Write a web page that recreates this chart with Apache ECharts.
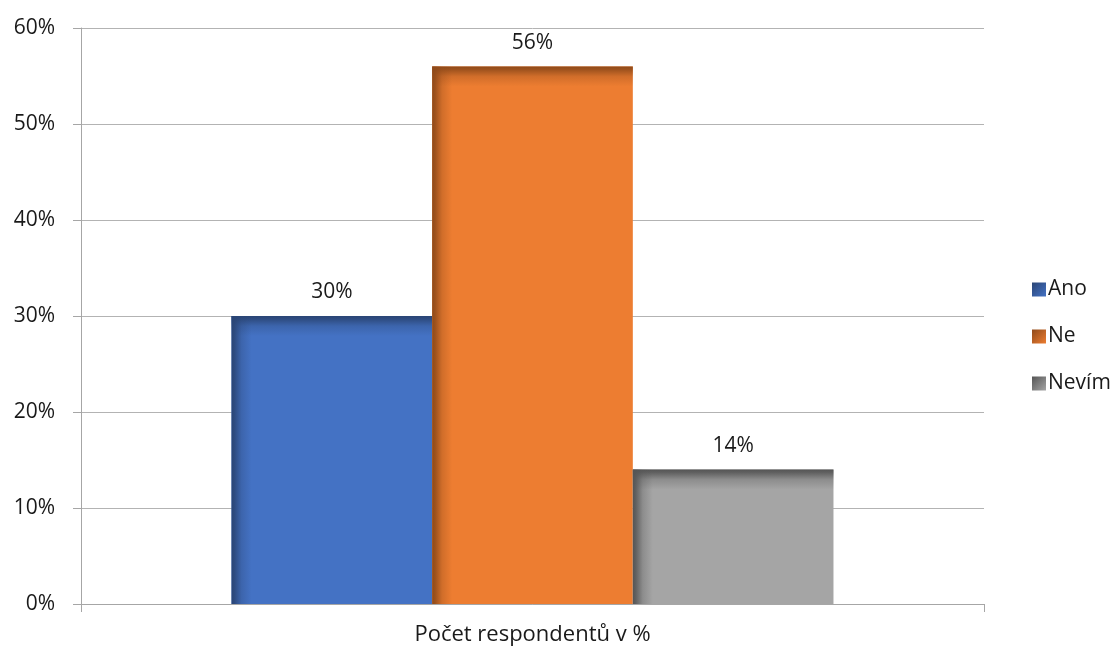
<!DOCTYPE html>
<html>
<head>
<meta charset="utf-8">
<script src="https://cdn.jsdelivr.net/npm/echarts@6/dist/echarts.min.js"></script>
<style>
  html, body { margin: 0; padding: 0; background: #ffffff; }
  #chart { width: 1119px; height: 648px; }
</style>
</head>
<body>
<div id="chart"></div>
<script>
// Survey answers, share of respondents in percent
const categories = ['Počet respondentů v %'];
const seriesNames = ['Ano', 'Ne', 'Nevím'];
const seriesValues = [30, 56, 14];
const baseColors = ['#4472c4', '#ed7d31', '#a5a5a5'];
const edgeColors = ['#2a4575', '#8f4a1a', '#555555'];

const FONT = 'Open Sans';
const FONT_SIZE = 21;
const TEXT_COLOR = '#1a1a1a';
const BAR_RATIO = 0.2222;   // bar width as a share of the category band
const EDGE = 20;            // width of the shaded bevel along left/top edges

function bevel(edge) {
  return [
    { offset: 0, color: edge },
    { offset: 0.15, color: echarts.color.modifyAlpha(edge, 0.85) },
    { offset: 0.5, color: echarts.color.modifyAlpha(edge, 0.3) },
    { offset: 1, color: echarts.color.modifyAlpha(edge, 0) }
  ];
}

function barRenderer(idx) {
  return function (params, api) {
    const value = api.value(1);
    const base = api.coord([api.value(0), 0]);
    const top = api.coord([api.value(0), value]);
    const band = api.size([1, 0])[0];
    const w = band * BAR_RATIO;
    const x = base[0] + (idx - 1) * w - w / 2;
    const y = top[1];
    const h = base[1] - top[1];
    const edge = edgeColors[idx];
    return {
      type: 'group',
      children: [
        { type: 'rect', shape: { x: x, y: y, width: w, height: h },
          style: { fill: baseColors[idx] } },
        { type: 'rect', shape: { x: x, y: y, width: w, height: Math.min(EDGE, h) },
          style: { fill: new echarts.graphic.LinearGradient(0, 0, 0, 1, bevel(edge)) } },
        { type: 'rect', shape: { x: x, y: y, width: EDGE, height: h },
          style: { fill: new echarts.graphic.LinearGradient(0, 0, 1, 0, bevel(edge)) } },
        { type: 'text', x: x + w / 2, y: y - 13,
          style: { text: value + '%', fill: TEXT_COLOR,
                   font: FONT_SIZE + 'px "' + FONT + '"',
                   align: 'center', verticalAlign: 'bottom' } }
      ]
    };
  };
}

const chart = echarts.init(document.getElementById('chart'), null, { renderer: 'canvas' });

chart.setOption({
  animation: false,
  backgroundColor: '#ffffff',
  textStyle: { fontFamily: FONT },
  grid: { left: 81, right: 135, top: 28, bottom: 44, containLabel: false },
  legend: {
    orient: 'vertical',
    left: 1027,
    top: 274,
    itemWidth: 14,
    itemHeight: 14,
    itemGap: 26,
    icon: 'rect',
    textStyle: { fontSize: FONT_SIZE, color: TEXT_COLOR, fontFamily: FONT, padding: [0, 0, 0, -3] },
    data: seriesNames
  },
  xAxis: {
    type: 'category',
    data: categories,
    boundaryGap: true,
    axisLine: { show: true, lineStyle: { color: '#a6a6a6', width: 1 } },
    axisTick: { show: true, length: 8, lineStyle: { color: '#a6a6a6' } },
    axisLabel: { margin: 20, fontSize: 22, color: TEXT_COLOR, fontFamily: FONT }
  },
  yAxis: {
    type: 'value',
    min: 0,
    max: 60,
    interval: 10,
    axisLine: { show: true, lineStyle: { color: '#a6a6a6', width: 1 } },
    axisTick: { show: true, length: 8, lineStyle: { color: '#a6a6a6' } },
    axisLabel: { margin: 26, fontSize: FONT_SIZE, color: TEXT_COLOR, fontFamily: FONT,
                 formatter: '{value}%' },
    splitLine: { show: true, lineStyle: { color: '#b3b3b3', width: 1 } }
  },
  series: seriesNames.map(function (name, i) {
    return {
      name: name,
      type: 'custom',
      renderItem: barRenderer(i),
      encode: { x: 0, y: 1 },
      itemStyle: {
        color: new echarts.graphic.LinearGradient(0, 0, 1, 1, [
          { offset: 0, color: edgeColors[i] },
          { offset: 1, color: baseColors[i] }
        ])
      },
      data: [[0, seriesValues[i]]]
    };
  })
});
</script>
</body>
</html>
